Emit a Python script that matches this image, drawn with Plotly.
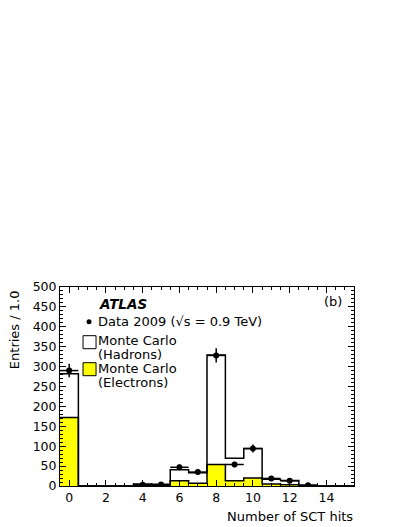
import numpy as np
import plotly.graph_objects as go

# ---- data ----
sct_hits = list(range(16))
mc_total = [282, 0, 0, 0, 5, 4, 41, 33, 329, 70, 94, 17, 14, 2, 0, 0]
mc_electrons = [172, 0, 0, 0, 2, 1, 13, 7, 54, 13, 20, 5, 3, 0, 0, 0]
data_x = [0, 4, 5, 6, 7, 8, 9, 10, 11, 12, 13]
data_y = [290, 3, 4, 47, 35, 328, 54, 94, 19, 13, 2]
data_err = [17, 2, 2, 7, 6, 18, 7, 10, 4, 4, 1]
y_ticks = [0, 50, 100, 150, 200, 250, 300, 350, 400, 450, 500]
x_ticks = [0, 2, 4, 6, 8, 10, 12, 14]

FONT = "DejaVu Sans"
W, H = 407, 527
L, R, T, B = 60, 353.7, 287.3, 486.3

def px(x):
    return (x - L) / (R - L)

def py(y):
    return (B - y) / (B - T)

edges = [h - 0.5 for h in sct_hits] + [sct_hits[-1] + 0.5]

fig = go.Figure()
fig.add_trace(go.Bar(x=sct_hits, y=mc_electrons, width=1.0,
                     marker=dict(color="#ffff00", line=dict(width=0)),
                     showlegend=False))
fig.add_trace(go.Scatter(x=edges, y=mc_electrons + [mc_electrons[-1]], mode="lines",
                         line=dict(shape="hv", color="black", width=1.5), showlegend=False))
fig.add_trace(go.Scatter(x=edges, y=mc_total + [mc_total[-1]], mode="lines",
                         line=dict(shape="hv", color="black", width=1.5), showlegend=False))
fig.add_trace(go.Scatter(x=data_x, y=data_y, mode="markers",
                         marker=dict(color="black", size=6),
                         error_y=dict(type="data", array=data_err, color="black", thickness=1.5, width=0),
                         error_x=dict(type="constant", value=0.5, color="black", thickness=1.5, width=0),
                         showlegend=False))

axis_common = dict(showline=True, linecolor="black", linewidth=1, mirror="allticks",
                   ticks="inside", tickcolor="black", showgrid=False, zeroline=False,
                   tickfont=dict(family=FONT, size=12.5, color="black"))

fig.update_layout(
    width=W, height=H,
    margin=dict(l=L, r=W - R, t=T, b=H - B),
    paper_bgcolor="white", plot_bgcolor="white",
    barmode="overlay", bargap=0,
    xaxis=dict(range=[-0.5, 15.5], tickvals=x_ticks, ticklen=6, tickwidth=1,
               minor=dict(dtick=0.5, tick0=0, ticklen=3, ticks="inside", tickcolor="black"),
               **axis_common),
    yaxis=dict(range=[0, 500], tickvals=y_ticks, ticklen=6, tickwidth=1,
               minor=dict(dtick=10, tick0=0, ticklen=3, ticks="inside", tickcolor="black"),
               **axis_common),
)

txt = dict(family=FONT, size=13, color="black")

def label(x, y, text, xanchor="left", font=txt, **kw):
    return dict(x=px(x), y=py(y), xref="paper", yref="paper", text=text, showarrow=False,
                xanchor=xanchor, yanchor="middle", font=font, borderpad=0, **kw)

ann = [
    label(98, 304, "<b><i>ATLAS</i></b>", font=dict(family=FONT, size=13.5, color="black")),
    label(97, 322, "Data 2009 (√s = 0.9 TeV)"),
    label(97, 341, "Monte Carlo"),
    label(97, 355, "(Hadrons)"),
    label(97, 369, "Monte Carlo"),
    label(97, 383, "(Electrons)"),
    label(343, 302, "(b)", xanchor="right"),
    label(354, 517, "Number of SCT hits", xanchor="right"),
    dict(x=px(14), y=py(289), xref="paper", yref="paper", text="Entries / 1.0",
         showarrow=False, xanchor="center", yanchor="top", textangle=-90, font=txt, borderpad=0),
]
fig.update_layout(annotations=ann)

shapes = [
    dict(type="circle", xref="paper", yref="paper", x0=px(86.5), x1=px(91.5), y0=py(319.5), y1=py(324.5),
         fillcolor="black", line=dict(color="black", width=0)),
    dict(type="rect", xref="paper", yref="paper", x0=px(83), x1=px(96), y0=py(349), y1=py(336),
         fillcolor="white", line=dict(color="black", width=1)),
    dict(type="rect", xref="paper", yref="paper", x0=px(83), x1=px(96), y0=py(376), y1=py(363),
         fillcolor="#ffff00", line=dict(color="black", width=1)),
]
fig.update_layout(shapes=shapes)

fig.write_html("out.html", config={"displayModeBar": False},
               post_script="document.body.style.margin='0px';")
